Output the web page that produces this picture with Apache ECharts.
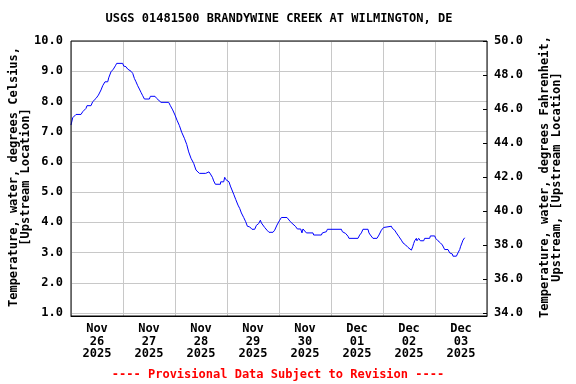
<!DOCTYPE html>
<html>
<head>
<meta charset="utf-8">
<script src="https://cdn.jsdelivr.net/npm/echarts@6/dist/echarts.min.js"></script>
<style>html,body{margin:0;padding:0;background:#fff}#c{width:576px;height:384px}</style>
</head>
<body>
<div id="c"></div>
<script>
// Hours since 2025-11-26 00:00
var hours = [0,0.78,1.25,2.31,4.62,5.4,6.92,7.38,9.23,10.0,11.54,12.65,13.85,14.63,15.69,16.94,17.4,18.46,19.57,20.49,21.09,23.86,24.32,25.38,26.17,27.69,28.48,29.26,30.0,30.78,31.57,32.31,33.09,33.88,36.18,36.64,38.77,39.55,41.54,45.09,45.87,46.93,48.0,48.92,50.03,51.09,52.34,53.4,54.32,55.38,56.63,57.69,59.26,62.17,62.77,63.69,64.34,65.26,65.86,66.64,68.95,69.09,70.47,70.94,71.4,72.0,72.92,73.56,74.3,75.09,76.01,77.07,77.86,78.64,79.7,80.63,81.41,82.47,83.53,84.78,85.56,86.63,87.41,87.87,88.33,89.39,90.45,91.38,93.22,94.0,95.07,96.32,97.1,99.68,100.15,101.25,102.45,103.56,104.48,106.0,106.6,107.07,107.86,108.64,111.68,112.0,115.56,116.02,117.87,118.33,124.79,125.25,126.77,127.84,128.3,132.45,133.24,134.02,134.76,137.07,137.53,138.17,139.37,141.22,142.14,143.25,144.31,144.77,147.87,148.33,149.39,150.17,151.24,152.48,153.22,154.47,155.53,156.31,157.1,157.7,158.16,158.62,159.4,159.68,160.47,161.25,162.77,163.24,165.54,165.86,167.86,168.32,169.38,170.49,171.41,172.47,174.0,174.78,176.02,176.3,177.87,178.61,179.4,179.86,180.46,180.92,181.71];
var tempC = [7.22,7.46,7.49,7.57,7.57,7.66,7.77,7.86,7.86,7.99,8.10,8.21,8.38,8.52,8.65,8.65,8.78,8.98,9.07,9.18,9.26,9.26,9.17,9.15,9.07,9.00,8.93,8.76,8.65,8.52,8.41,8.30,8.19,8.08,8.08,8.17,8.17,8.10,7.97,7.97,7.86,7.72,7.55,7.38,7.20,6.98,6.78,6.58,6.33,6.12,5.95,5.73,5.62,5.62,5.67,5.67,5.60,5.49,5.37,5.26,5.26,5.34,5.34,5.49,5.42,5.37,5.34,5.20,5.07,4.93,4.76,4.57,4.46,4.31,4.16,4.02,3.87,3.85,3.77,3.77,3.90,3.96,4.07,3.98,3.94,3.83,3.74,3.67,3.67,3.74,3.91,4.07,4.16,4.16,4.10,4.02,3.94,3.87,3.78,3.78,3.65,3.78,3.77,3.65,3.65,3.58,3.58,3.65,3.69,3.77,3.77,3.69,3.63,3.54,3.47,3.47,3.58,3.65,3.77,3.77,3.65,3.58,3.47,3.47,3.58,3.74,3.83,3.87,3.87,3.80,3.74,3.65,3.54,3.41,3.32,3.25,3.17,3.19,3.08,3.19,3.30,3.39,3.47,3.39,3.47,3.39,3.39,3.47,3.47,3.55,3.55,3.47,3.39,3.32,3.25,3.10,3.10,2.99,2.95,2.88,2.88,2.99,3.10,3.21,3.32,3.41,3.49];
var dateLabels = ['Nov\n26\n2025','Nov\n27\n2025','Nov\n28\n2025','Nov\n29\n2025','Nov\n30\n2025','Dec\n01\n2025','Dec\n02\n2025','Dec\n03\n2025'];
var leftTicks = {min: 1, max: 10, interval: 1};
var rightTicks = {min: 34, max: 50, interval: 2};
var titleText = 'USGS 01481500 BRANDYWINE CREEK AT WILMINGTON, DE';
var noteText = '---- Provisional Data Subject to Revision ----';

var FONT = 'DejaVu Sans Mono';
var seriesData = hours.map(function (h, i) { return [h, tempC[i]]; });
var chart = echarts.init(document.getElementById('c'), null, {renderer: 'canvas'});
chart.setOption({
  animation: false,
  backgroundColor: '#fff',
  title: [
    {text: titleText, left: 279, top: 13, textAlign: 'center', padding: 0,
     textStyle: {fontFamily: FONT, fontWeight: 'bold', fontSize: 12, color: '#000'}},
    {text: noteText, left: 278, top: 369, textAlign: 'center', padding: 0,
     textStyle: {fontFamily: FONT, fontWeight: 'bold', fontSize: 12, color: '#ff0000'}}
  ],
  grid: [
    {left: 71, right: 89, top: 41, bottom: 71, show: false},
    {left: 71, right: 89, top: 41, bottom: 68, show: true, borderColor: '#000', borderWidth: 1, backgroundColor: 'transparent', z: 3}
  ],
  xAxis: [
    {type: 'value', gridIndex: 0, min: 0, max: 192, interval: 24, show: false},
    {type: 'category', gridIndex: 1, data: dateLabels, boundaryGap: true,
     axisLine: {show: true, lineStyle: {color: '#000', width: 1}},
     axisTick: {show: false},
     splitLine: {show: true, lineStyle: {color: '#c8c8c8', width: 1}},
     axisLabel: {interval: 0, margin: 7, fontFamily: FONT, fontWeight: 'bold', fontSize: 12, lineHeight: 12.5, color: '#000'}}
  ],
  yAxis: [
    {type: 'value', gridIndex: 0, position: 'left', min: leftTicks.min, max: leftTicks.max, interval: leftTicks.interval,
     axisLine: {show: false}, axisTick: {show: false},
     splitLine: {show: true, lineStyle: {color: '#c8c8c8', width: 1}},
     axisLabel: {margin: 8, fontFamily: FONT, fontWeight: 'bold', fontSize: 12, color: '#000',
                 formatter: function (v) { return v.toFixed(1); }},
     name: 'Temperature, water, degrees Celsius,\n[Upstream Location]',
     nameLocation: 'middle', nameGap: 39, nameMoveOverlap: false,
     nameTextStyle: {fontFamily: FONT, fontWeight: 'bold', fontSize: 12, lineHeight: 12, color: '#000'}},
    {type: 'value', gridIndex: 0, position: 'right', min: rightTicks.min, max: rightTicks.max, interval: rightTicks.interval,
     axisLine: {show: false},
     axisTick: {show: true, inside: true, length: 4, lineStyle: {color: '#000'}},
     splitLine: {show: false},
     axisLabel: {margin: 7, fontFamily: FONT, fontWeight: 'bold', fontSize: 12, color: '#000',
                 formatter: function (v) { return v.toFixed(1); }},
     name: 'Temperature, water, degrees Fahrenheit,\nUpstream, [Upstream Location]',
     nameLocation: 'middle', nameGap: 52, nameMoveOverlap: false,
     nameTextStyle: {fontFamily: FONT, fontWeight: 'bold', fontSize: 12, lineHeight: 12, color: '#000'}},
    {type: 'value', gridIndex: 1, show: false}
  ],
  series: [{
    type: 'line', xAxisIndex: 0, yAxisIndex: 0, data: seriesData,
    showSymbol: false, symbol: 'none',
    lineStyle: {color: '#0000ff', width: 1}, z: 2
  }]
});
</script>
</body>
</html>
